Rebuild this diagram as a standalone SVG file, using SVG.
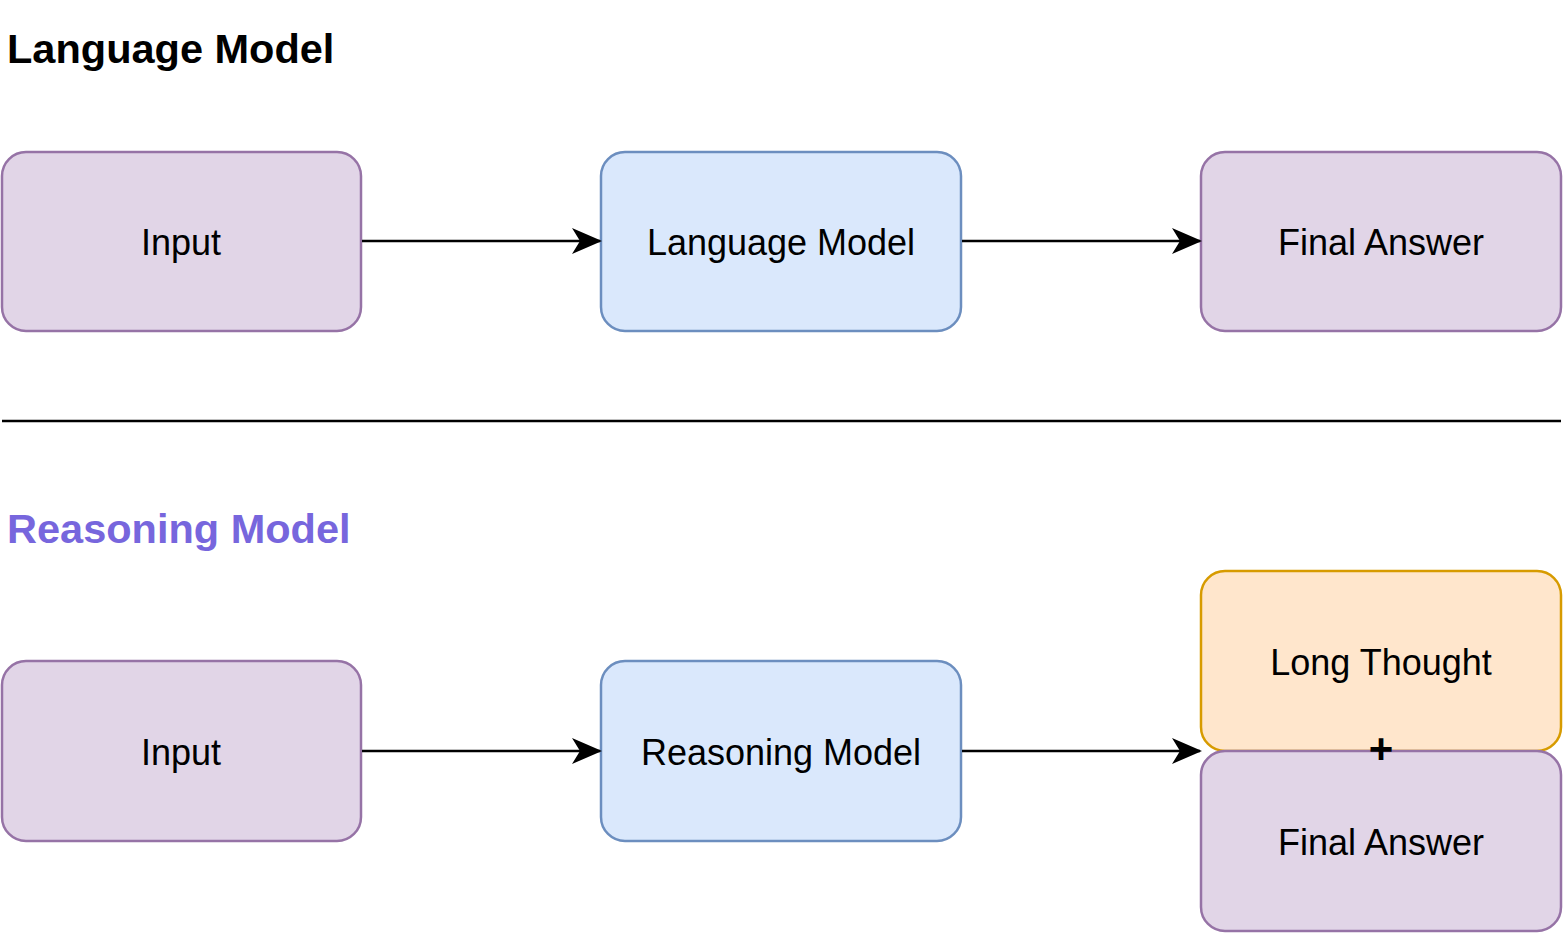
<svg xmlns="http://www.w3.org/2000/svg" width="1566" height="933" viewBox="0 0 1566 933">
<style>
.p{fill:#e1d5e7;stroke:#9673a6;stroke-width:2.5}
.b{fill:#dae8fc;stroke:#6c8ebf;stroke-width:2.5}
.o{fill:#ffe6cc;stroke:#d79b00;stroke-width:2.5}
.t{font-family:"Liberation Sans",Arial,sans-serif;font-size:36px;text-anchor:middle;fill:#000}
.h{font-family:"Liberation Sans",Arial,sans-serif;font-size:41.5px;font-weight:bold}
.c{stroke:#000;stroke-width:2.5;fill:none;marker-end:url(#a)}
</style>
<defs>
<marker id="a" viewBox="0 0 30 26" refX="28" refY="13" markerWidth="30" markerHeight="26" markerUnits="userSpaceOnUse" orient="auto"><path d="M0,0 L30,13 L0,26 L8,13 Z" fill="#000"/></marker></defs>
<rect width="1566" height="933" fill="#fff"/>
<text class="h" x="7" y="63">Language Model</text>
<text class="h" x="7" y="543" fill="#7766dd">Reasoning Model</text>
<line x1="2" y1="421" x2="1561" y2="421" stroke="#000" stroke-width="2.5"/>
<g id="n1"><rect class="p" x="2" y="152" width="359" height="179" rx="24"/><text class="t" x="181" y="255">Input</text></g>
<g id="n2"><rect class="b" x="601" y="152" width="360" height="179" rx="24"/><text class="t" x="781" y="255">Language Model</text></g>
<g id="n3"><rect class="p" x="1201" y="152" width="360" height="179" rx="24"/><text class="t" x="1381" y="255">Final Answer</text></g>
<g id="n4"><rect class="p" x="2" y="661" width="359" height="180" rx="24"/><text class="t" x="181" y="765">Input</text></g>
<g id="n5"><rect class="b" x="601" y="661" width="360" height="180" rx="24"/><text class="t" x="781" y="765">Reasoning Model</text></g>
<g id="n6"><rect class="o" x="1201" y="571" width="360" height="180" rx="24"/><text class="t" x="1381" y="675">Long Thought</text></g>
<g id="n7"><rect class="p" x="1201" y="751" width="360" height="180" rx="24"/><text class="t" x="1381" y="855">Final Answer</text></g>
<text x="1381" y="763" font-family="Liberation Sans,Arial,sans-serif" font-size="42" font-weight="bold" text-anchor="middle">+</text>
<g id="edges">
<path class="c" d="M362,241 H600"/>
<path class="c" d="M962,241 H1200"/>
<path class="c" d="M362,751 H600"/>
<path class="c" d="M962,751 H1200"/>
</g>
</svg>
